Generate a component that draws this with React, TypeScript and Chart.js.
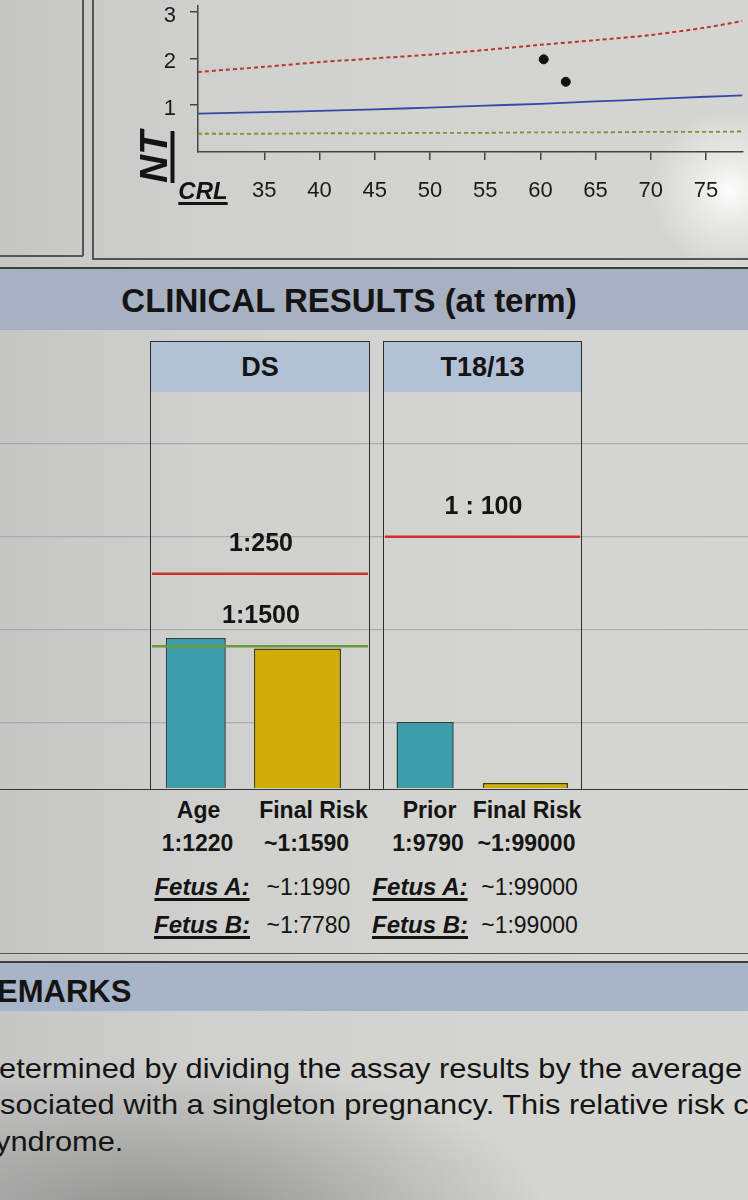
import React, { useEffect, useRef } from "react";
import { Chart, registerables } from "chart.js";

Chart.register(...registerables);

const FONT = '"Liberation Sans", Arial, Helvetica, sans-serif';
Chart.defaults.font.family = FONT;

// ---------- NT / CRL chart data ----------
const crlSamples = [29, 35, 40, 45, 50, 55, 60, 65, 70, 75, 78.3];
const ntUpper = [1.71, 1.82, 1.92, 2.0, 2.08, 2.18, 2.29, 2.39, 2.5, 2.66, 2.8];
const ntMedian = [0.82, 0.85, 0.88, 0.91, 0.95, 0.99, 1.03, 1.08, 1.13, 1.18, 1.21];
const ntLower = [0.39, 0.39, 0.4, 0.4, 0.41, 0.41, 0.42, 0.42, 0.43, 0.43, 0.44];
const fetusCrl = [60.3, 62.3];
const fetusNt = [1.98, 1.5];
const crlTicks = [35, 40, 45, 50, 55, 60, 65, 70, 75];
const ntTicks = [1, 2, 3];

// ---------- Clinical results data (risk = 1 : N) ----------
const dsLabels = ["Age", "Final Risk"];
const dsRisk = [1220, 1590];
const dsCutoffs = [250, 1500];
const dsCutoffLabels = ["1:250", "1:1500"];
const t18Labels = ["Prior", "Final Risk"];
const t18Risk = [9790, 99000];
const t18Cutoffs = [100];
const t18CutoffLabels = ["1 : 100"];
const gridRisk = [10, 100, 1000, 10000];
const axisTopRisk = 2.78;
const axisBottomRisk = 50000;

const dsRiskText = ["1:1220", "~1:1590"];
const t18RiskText = ["1:9790", "~1:99000"];
const dsFetusText = ["~1:1990", "~1:7780"];
const t18FetusText = ["~1:99000", "~1:99000"];

const remarkLines = [
  "etermined by dividing the assay results by the average",
  "sociated with a singleton pregnancy. This relative risk c",
  "yndrome.",
];

// ---------- styles ----------
const PAPER = "#d3d3cf";
const BAND = "#a7b1c1";
const PANEL_HEAD = "#b3c1d5";
const TEAL = "#3d9dab";
const YELLOW = "#cfac07";
const RED = "#d2302b";
const GREEN = "#6b9a3c";
const INK = "#141414";

const BOX_TOP = 341;
const BOX_BOTTOM = 790;
const PLOT_TOP = 392;
const PLOT_H = 396;

const thresholdPlugin = {
  id: "thresholds",
  afterDatasetsDraw(chart: any, _args: any, opts: any) {
    const { ctx } = chart;
    const y = chart.scales.y;
    const x0 = opts.from || 0;
    const x1 = opts.to || chart.width;
    (opts.values || []).forEach((den: number, i: number) => {
      const py = y.getPixelForValue(1 / den);
      ctx.save();
      ctx.strokeStyle = opts.colors[i];
      ctx.lineWidth = 2.5;
      ctx.beginPath();
      ctx.moveTo(x0, py);
      ctx.lineTo(x1, py);
      ctx.stroke();
      ctx.fillStyle = INK;
      ctx.font = `bold 25px ${FONT}`;
      ctx.textAlign = "center";
      ctx.textBaseline = "middle";
      ctx.fillText(opts.labels[i], (x0 + x1) / 2 + 1, py - 30);
      ctx.restore();
    });
  },
};

function TopChart() {
  const ref = useRef<HTMLCanvasElement>(null);
  useEffect(() => {
    const pts = (ys: number[]) => crlSamples.map((x, i) => ({ x, y: ys[i] }));
    const chart = new Chart(ref.current!, {
      type: "scatter",
      data: {
        datasets: [
          { data: pts(ntUpper), showLine: true, borderColor: "#b8372e", borderWidth: 2, borderDash: [4, 3], pointRadius: 0, tension: 0.3 },
          { data: pts(ntMedian), showLine: true, borderColor: "#3448a8", borderWidth: 1.8, pointRadius: 0, tension: 0.3 },
          { data: pts(ntLower), showLine: true, borderColor: "#7f8f33", borderWidth: 1.8, borderDash: [4, 3], pointRadius: 0, tension: 0.3 },
          { data: fetusCrl.map((x, i) => ({ x, y: fetusNt[i] })), showLine: false, pointRadius: 4.5, backgroundColor: "#111", borderColor: "#111" },
        ],
      } as any,
      options: {
        responsive: false,
        animation: false,
        devicePixelRatio: 1,
        layout: { padding: 0 },
        plugins: { legend: { display: false }, tooltip: { enabled: false } },
        scales: {
          x: {
            type: "linear",
            min: 29,
            max: 78.3,
            afterBuildTicks: (a: any) => { a.ticks = crlTicks.map((v) => ({ value: v })); },
            afterFit: (s: any) => { s.height = 106; s.paddingLeft = 0; s.paddingRight = 0; },
            grid: { drawOnChartArea: false, drawTicks: true, tickLength: 8, color: "#444", lineWidth: 1.5 },
            border: { color: "#444", width: 1.5 },
            ticks: { color: "#1a1a1a", font: { size: 22 }, padding: 18, maxRotation: 0, autoSkip: false },
          },
          y: {
            min: 0,
            max: 3.13,
            afterBuildTicks: (a: any) => { a.ticks = ntTicks.map((v) => ({ value: v })); },
            afterFit: (s: any) => { s.width = 106; s.paddingTop = 0; s.paddingBottom = 0; },
            grid: { drawOnChartArea: false, drawTicks: true, tickLength: 8, color: "#444", lineWidth: 1.5 },
            border: { color: "#444", width: 1.5 },
            ticks: { color: "#1a1a1a", font: { size: 22 }, padding: 14, labelOffset: 4 },
          },
        },
      } as any,
    });
    return () => chart.destroy();
  }, []);
  return <canvas ref={ref} width={656} height={258} style={{ position: "absolute", left: 92, top: 0 }} />;
}

function GridChart() {
  const ref = useRef<HTMLCanvasElement>(null);
  useEffect(() => {
    const chart = new Chart(ref.current!, {
      type: "bar",
      data: { labels: [""], datasets: [] },
      options: {
        responsive: false,
        animation: false,
        devicePixelRatio: 1,
        layout: { padding: 0 },
        plugins: { legend: { display: false }, tooltip: { enabled: false } },
        scales: {
          x: { display: false },
          y: {
            type: "logarithmic",
            min: 1 / axisBottomRisk,
            max: 1 / axisTopRisk,
            afterBuildTicks: (a: any) => { a.ticks = gridRisk.map((d) => ({ value: 1 / d })); },
            afterFit: (s: any) => { s.width = 0; s.paddingTop = 0; s.paddingBottom = 0; },
            ticks: { display: false },
            border: { display: false },
            grid: { color: "rgba(140,146,152,0.55)", lineWidth: 1.2, drawTicks: false },
          },
        },
      } as any,
    });
    return () => chart.destroy();
  }, []);
  return <canvas ref={ref} width={748} height={PLOT_H} style={{ position: "absolute", left: 0, top: PLOT_TOP }} />;
}

function RiskPanel(props: {
  boxLeft: number; boxWidth: number; title: string; labels: string[]; risk: number[];
  cutoffs: number[]; cutoffLabels: string[]; cutoffColors: string[]; barPercent: number[];
  shift: number; padRight: number;
}) {
  const ref = useRef<HTMLCanvasElement>(null);
  const innerW = props.boxWidth - 4;
  const canvasW = innerW + props.shift;
  useEffect(() => {
    const minV = 1 / axisBottomRisk;
    const maxV = 1 / axisTopRisk;
    const val = (n: number) => Math.max(1 / n, minV);
    const chart = new Chart(ref.current!, {
      type: "bar",
      data: {
        labels: props.labels,
        datasets: [
          { data: [val(props.risk[0]), null], backgroundColor: TEAL, borderColor: "#23424a", borderWidth: 1.5, barPercentage: props.barPercent[0], categoryPercentage: 1, grouped: false, minBarLength: 5 },
          { data: [null, val(props.risk[1])], backgroundColor: YELLOW, borderColor: "#4a3d00", borderWidth: 1.5, barPercentage: props.barPercent[1], categoryPercentage: 1, grouped: false, minBarLength: 5 },
        ],
      } as any,
      options: {
        responsive: false,
        animation: false,
        devicePixelRatio: 1,
        layout: { padding: { left: 0, right: props.padRight, top: 0, bottom: 0 } },
        plugins: {
          legend: { display: false },
          tooltip: { enabled: false },
          thresholds: { values: props.cutoffs, labels: props.cutoffLabels, colors: props.cutoffColors, from: props.shift, to: props.shift + innerW },
        },
        scales: {
          x: { display: false, offset: true },
          y: { type: "logarithmic", display: false, min: minV, max: maxV },
        },
      } as any,
      plugins: [thresholdPlugin],
    });
    return () => chart.destroy();
  }, []);
  return (
    <>
      <div
        style={{
          position: "absolute", left: props.boxLeft, top: BOX_TOP, width: props.boxWidth,
          height: BOX_BOTTOM - BOX_TOP, border: "1.5px solid #2e2e2e", boxSizing: "border-box",
        }}
      >
        <div
          style={{
            height: PLOT_TOP - BOX_TOP - 1.5, background: PANEL_HEAD, display: "flex",
            alignItems: "center", justifyContent: "center", fontWeight: 700, fontSize: 27, color: INK,
            lineHeight: 1, paddingTop: 2, boxSizing: "border-box",
          }}
        >
          {props.title}
        </div>
      </div>
      <canvas ref={ref} width={canvasW} height={PLOT_H} style={{ position: "absolute", left: props.boxLeft + 2 - props.shift, top: PLOT_TOP }} />
    </>
  );
}

function Txt(props: { x: number; y: number; size: number; bold?: boolean; italic?: boolean; underline?: boolean; children: React.ReactNode }) {
  return (
    <div
      style={{
        position: "absolute", left: props.x, top: props.y, transform: "translate(-50%,-50%)",
        whiteSpace: "nowrap", fontSize: props.size, lineHeight: 1, color: INK,
        fontWeight: props.bold ? 700 : 400, fontStyle: props.italic ? "italic" : "normal",
        textDecoration: props.underline ? "underline" : "none", textDecorationThickness: 2.5,
        textUnderlineOffset: 3,
      }}
    >
      {props.children}
    </div>
  );
}

function Line(props: { left: number; top: number; width: number; height: number; color: string }) {
  return <div style={{ position: "absolute", left: props.left, top: props.top, width: props.width, height: props.height, background: props.color }} />;
}

export default function App() {
  const rowCols = [198.5, 313.5, 429.5, 527];
  const valCols = [197.5, 306.5, 428, 526.5];
  const remarkTops = [1055, 1091, 1128];
  const remarkLefts = [-1, 0, -5];
  return (
    <div
      style={{
        position: "absolute", left: 0, top: 0, width: 748, height: 1200, overflow: "hidden",
        fontFamily: FONT, color: INK,
        background: `radial-gradient(circle at 730px 190px, rgba(255,255,255,0.95) 0px, rgba(255,255,255,0.5) 30px, rgba(255,255,255,0) 80px),
          radial-gradient(ellipse 380px 170px at 170px 1230px, rgba(60,60,60,0.45) 0%, rgba(60,60,60,0) 100%),
          linear-gradient(90deg, #c6c7c5 0%, #cfd0cd 25%, ${PAPER} 55%, #d5d5d1 100%)`,
      }}
    >
      {/* top section boxes */}
      <Line left={82} top={0} width={1.5} height={256} color="#555" />
      <Line left={0} top={255} width={83} height={1.5} color="#555" />
      <Line left={92} top={0} width={1.5} height={259} color="#555" />
      <Line left={92} top={258} width={656} height={1.5} color="#555" />
      <TopChart />
      <div
        style={{
          position: "absolute", left: 153, top: 157, transform: "translate(-50%,-50%) rotate(-90deg)",
          fontSize: 39, fontWeight: 700, fontStyle: "italic", lineHeight: 1, whiteSpace: "nowrap",
          textDecoration: "underline", textDecorationThickness: 3.5, textUnderlineOffset: 4,
        }}
      >
        NT
      </div>
      <Txt x={203} y={191} size={24} bold italic underline>CRL</Txt>

      {/* clinical results band */}
      <Line left={0} top={267} width={748} height={1.5} color="#3c3c3c" />
      <div style={{ position: "absolute", left: 0, top: 268.5, width: 748, height: 61, background: BAND }} />
      <Txt x={349} y={300} size={33} bold>CLINICAL RESULTS (at term)</Txt>

      <GridChart />
      <RiskPanel
        boxLeft={150} boxWidth={220} title="DS" labels={dsLabels} risk={dsRisk}
        cutoffs={dsCutoffs} cutoffLabels={dsCutoffLabels} cutoffColors={[RED, GREEN]}
        barPercent={[0.59, 0.857]} shift={7} padRight={19.75}
      />
      <RiskPanel
        boxLeft={383} boxWidth={199} title="T18/13" labels={t18Labels} risk={t18Risk}
        cutoffs={t18Cutoffs} cutoffLabels={t18CutoffLabels} cutoffColors={[RED]}
        barPercent={[0.57, 0.85]} shift={10} padRight={4.5}
      />
      <Line left={0} top={788.5} width={748} height={1.5} color="#333" />

      {/* labels below bars */}
      {[...dsLabels, ...t18Labels].map((t, i) => (
        <Txt key={"l" + i} x={rowCols[i]} y={810} size={23} bold>{t}</Txt>
      ))}
      {[...dsRiskText, ...t18RiskText].map((t, i) => (
        <Txt key={"v" + i} x={valCols[i]} y={843} size={23} bold>{t}</Txt>
      ))}
      {["A", "B"].map((f, r) => (
        <React.Fragment key={f}>
          <Txt x={202} y={887 + r * 38} size={24} bold italic underline>{`Fetus ${f}:`}</Txt>
          <Txt x={308.5} y={887 + r * 38} size={23}>{dsFetusText[r]}</Txt>
          <Txt x={420} y={887 + r * 38} size={24} bold italic underline>{`Fetus ${f}:`}</Txt>
          <Txt x={529.5} y={887 + r * 38} size={23}>{t18FetusText[r]}</Txt>
        </React.Fragment>
      ))}

      {/* remarks */}
      <Line left={0} top={953} width={748} height={1} color="#555" />
      <Line left={0} top={961} width={748} height={1.5} color="#3c3c3c" />
      <div style={{ position: "absolute", left: 0, top: 962.5, width: 748, height: 48, background: "#a8b4c7" }} />
      <div style={{ position: "absolute", left: -3, top: 992 - 16, fontSize: 31, fontWeight: 700, lineHeight: 1, whiteSpace: "nowrap" }}>EMARKS</div>
      {remarkLines.map((t, i) => (
        <div
          key={"r" + i}
          style={{
            position: "absolute", left: remarkLefts[i], top: remarkTops[i], fontSize: 28, lineHeight: 1,
            whiteSpace: "nowrap", transform: "scaleX(1.1)", transformOrigin: "0 0",
          }}
        >
          {t}
        </div>
      ))}
    </div>
  );
}
